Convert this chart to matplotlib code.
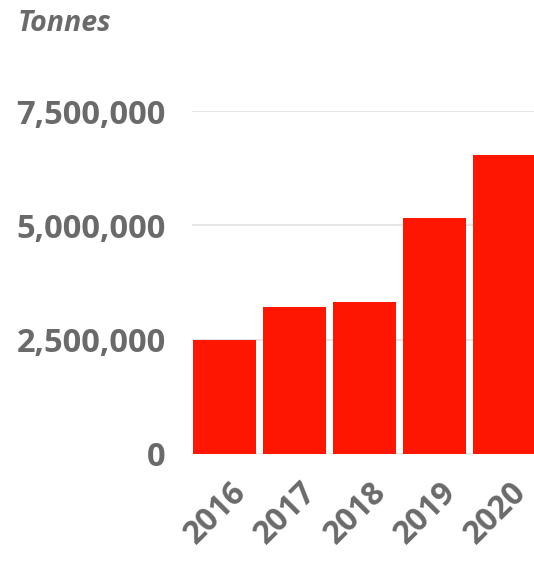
import matplotlib
matplotlib.use("Agg")
import matplotlib.pyplot as plt
import matplotlib.transforms as mtrans
from matplotlib.ticker import FuncFormatter

years = ["2016", "2017", "2018", "2019", "2020"]
tonnes = [2490000, 3210000, 3320000, 5160000, 6540000]
yticks = [0, 2500000, 5000000, 7500000]

plt.rcParams["font.family"] = ["Open Sans", "DejaVu Sans"]
grey = "#6a6a6a"
red = "#FF1600"

fig = plt.figure(figsize=(5.34, 5.62), dpi=100)
ax = fig.add_axes([192 / 534, (562 - 454) / 562, 1 - 192 / 534, (454 - 111) / 562])

x = range(len(years))
ax.bar(x, tonnes, width=0.9, color=red, zorder=3)

ax.set_xlim(-0.464, 4.42)
ax.set_ylim(0, 7500000)
ax.set_yticks(yticks)
ax.yaxis.set_major_formatter(FuncFormatter(lambda v, p: f"{int(v):,}"))
ax.grid(axis="y", color="#e4e4e4", linewidth=1.3, zorder=0)
ax.set_axisbelow(True)
for s in ax.spines.values():
    s.set_visible(False)
ax.tick_params(axis="y", length=0, colors=grey, labelsize=23.5, pad=19)
ax.tick_params(axis="x", length=0, colors=grey, labelsize=23, pad=24)
ax.set_xticks(list(x))
ax.set_xticklabels(years, rotation=45, ha="right", va="center",
                   rotation_mode="anchor", fontweight="bold")
shift = mtrans.ScaledTranslation(17 / 100, 0, fig.dpi_scale_trans)
for t in ax.get_xticklabels():
    t.set_transform(t.get_transform() + shift)
for t in ax.get_yticklabels():
    t.set_fontweight("bold")

fig.text(18 / 534, 1 - 9 / 562, "Tonnes", ha="left", va="top", fontsize=20.5,
         fontweight="bold", fontstyle="italic", color=grey)

fig.savefig("out.png", dpi=100)
